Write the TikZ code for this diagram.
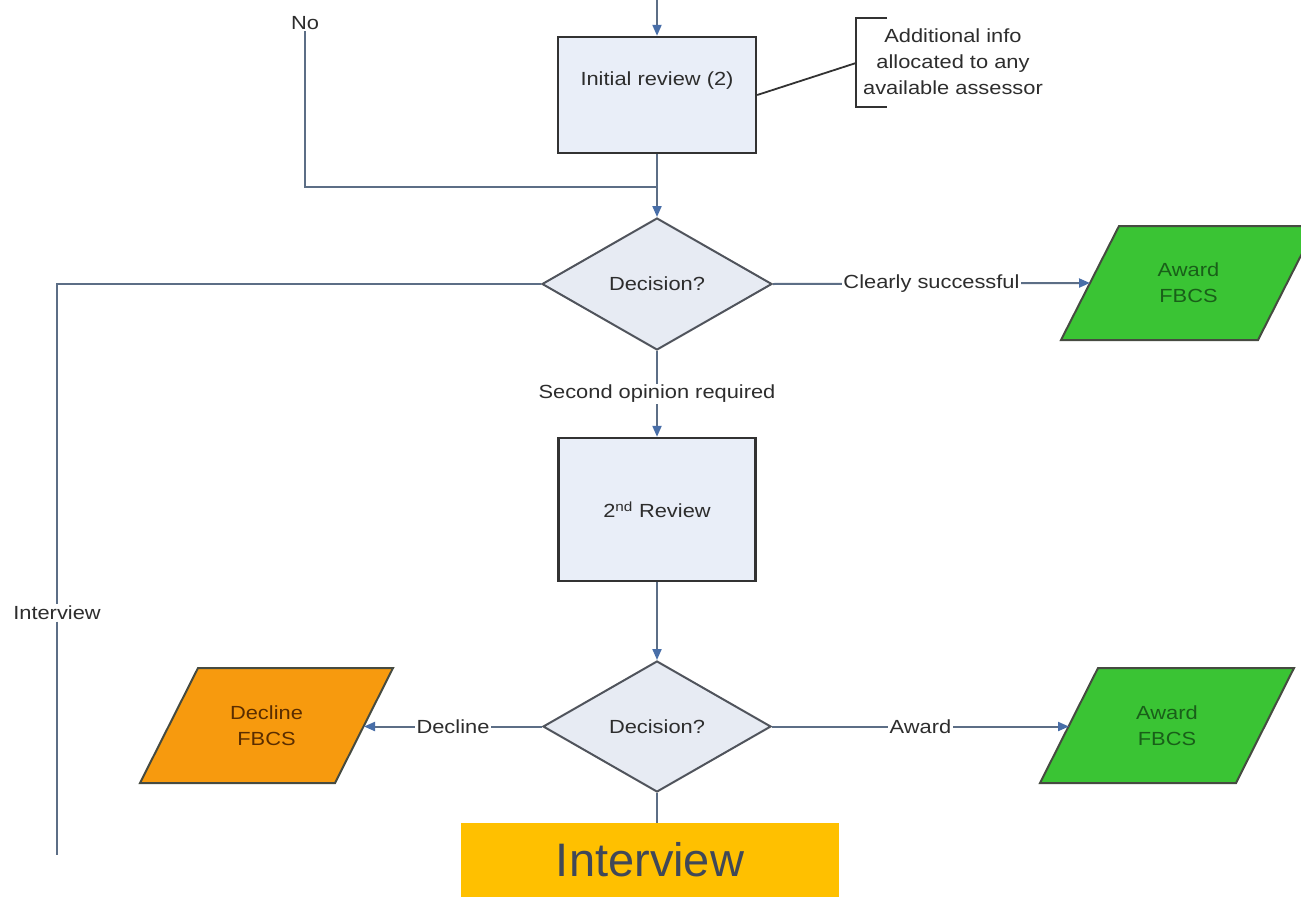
\documentclass[tikz,border=0pt]{standalone}
\usepackage{fontspec}
\setmainfont{Liberation Sans}
\newfontfamily\dfont[FakeStretch=1.15]{Liberation Sans}
\usetikzlibrary{shapes.geometric,arrows.meta}
\definecolor{boxfill}{RGB}{233,238,248}
\definecolor{dfill}{RGB}{231,235,243}
\definecolor{boxline}{RGB}{50,50,50}
\definecolor{dline}{RGB}{80,84,92}
\definecolor{linec}{RGB}{92,110,134}
\definecolor{arrowc}{RGB}{72,110,168}
\definecolor{txtc}{RGB}{45,45,45}
\definecolor{grn}{RGB}{58,196,52}
\definecolor{grntxt}{RGB}{25,95,25}
\definecolor{org}{RGB}{247,154,14}
\definecolor{orgtxt}{RGB}{90,45,0}
\definecolor{parline}{RGB}{70,75,65}
\definecolor{bannery}{RGB}{255,192,0}
\definecolor{bannertxt}{RGB}{64,72,88}
\begin{document}
\begin{tikzpicture}[x=1pt,y=-1pt,
  txt/.style={font=\dfont\fontsize{19}{26}\selectfont, text=txtc, inner sep=2pt},
  procbox/.style={draw=boxline, line width=2.4pt, fill=boxfill, inner sep=0pt,
    font=\dfont\fontsize{19}{26}\selectfont, text=txtc},
  decision/.style={diamond, draw=dline, line width=2pt, fill=dfill, inner sep=0pt,
    font=\dfont\fontsize{19}{26}\selectfont, text=txtc},
  parbox/.style={draw=parline, line width=2pt, line join=miter},
  partxt/.style={align=center, inner sep=0pt, font=\dfont\fontsize{19}{26}\selectfont},
  lbl/.style={txt, fill=white, inner sep=1.5pt},
  link/.style={draw=linec, line width=2pt},
  conn/.style={link, -{Triangle[length=11pt,width=9pt,color=arrowc]}},
  anno/.style={draw=boxline, line width=1.8pt},
]
\useasboundingbox (0,0) rectangle (1301,897);
\fill[white] (0,0) rectangle (1301,897);

% process boxes and decisions
\coordinate (topin) at (657,0);
\node[procbox, minimum width=198pt, minimum height=116pt] (b1) at (657,95) {};
\node[txt] (b1t) at (657,81) {Initial review (2)};
\node[lbl] (no) at (305,23) {No};
\coordinate (j) at (657,187);
\node[decision, minimum width=230pt, minimum height=132pt] (d1) at (657,284) {Decision?};
\node[procbox, minimum width=197pt, minimum height=143pt] (b2) at (657,509.5) {2\textsuperscript{nd} Review};
\node[decision, minimum width=228pt, minimum height=131pt] (d2) at (657,726.5) {Decision?};

% parallelograms (outputs)
\draw[parbox, fill=grn] (1061,340) -- (1119,226) -- (1316,226) -- (1258,340) -- cycle;
\node[partxt, text=grntxt] (g1) at (1188.5,283) {Award\\FBCS};
\coordinate (g1in) at (1090,283);
\draw[parbox, fill=grn] (1040,783) -- (1098,668) -- (1294,668) -- (1236,783) -- cycle;
\node[partxt, text=grntxt] (g2) at (1167,725.5) {Award\\FBCS};
\coordinate (g2in) at (1069,726.5);
\draw[parbox, fill=org] (140,783) -- (198,668) -- (393,668) -- (335,783) -- cycle;
\node[partxt, text=orgtxt] (o1) at (266.5,725.5) {Decline\\FBCS};
\coordinate (o1in) at (364,726.5);

\node[lbl] (iv) at (57,613) {Interview};
\coordinate (ivend) at (57,855);
\coordinate (bend) at (657,823);

% annotation
\node[txt, align=center] (ann) at (953,62) {Additional info\\allocated to any\\available assessor};
\coordinate (brk) at (856,63);
\draw[anno] (887,18) -- (856,18) -- (856,107) -- (887,107);
\draw[anno] (b1.east) -- (brk);

% connectors
\draw[conn] (topin) -- (b1.north);
\draw[link] (b1.south) -- (j);
\draw[link] (no.south) |- (j);
\draw[conn] (j) -- (d1.north);
\draw[conn] (d1.east) -- node[lbl] {Clearly successful} (g1in);
\draw[conn] (d1.south) -- node[lbl] {Second opinion required} (b2.north);
\draw[link] (d1.west) -| (iv.north);
\draw[link] (iv.south) -- (ivend);
\draw[conn] (b2.south) -- (d2.north);
\draw[conn] (d2.west) -- node[lbl] {Decline} (o1in);
\draw[conn] (d2.east) -- node[lbl] {Award} (g2in);
\draw[link] (d2.south) -- (bend);

% banner
\node[fill=bannery, minimum width=378pt, minimum height=74pt, inner sep=0pt,
  text=bannertxt, font=\fontsize{47}{50}\selectfont] (ban) at (650,860) {Interview};
\end{tikzpicture}
\end{document}
